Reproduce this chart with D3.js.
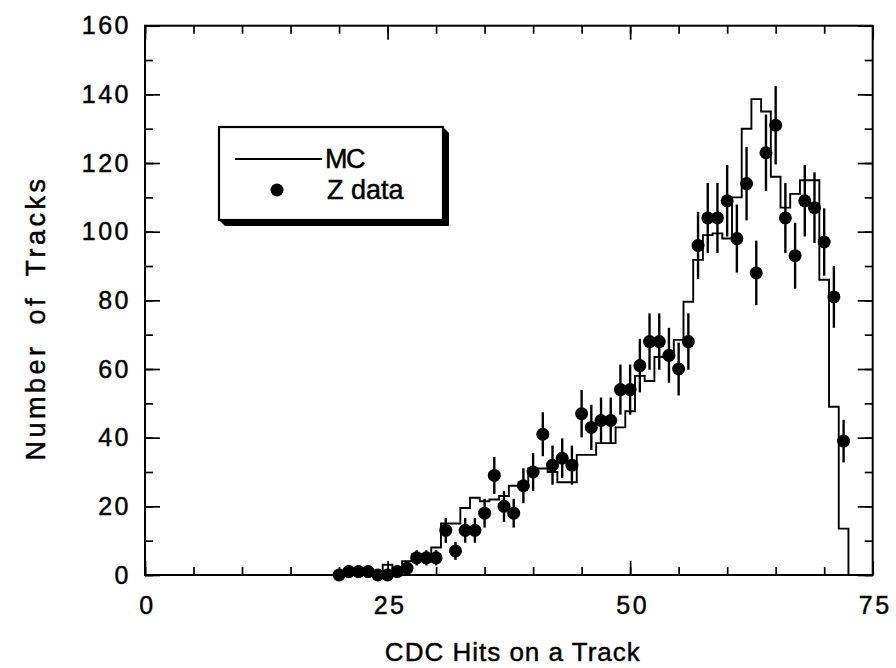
<!DOCTYPE html>
<html>
<head>
<meta charset="utf-8">
<script src="https://cdn.jsdelivr.net/npm/d3@7"></script>
<style>
  body { margin: 0; background: #fff; }
  svg { display: block; }
  text { font-family: "Liberation Sans", Arial, Helvetica, sans-serif; fill: #000; stroke: #000; stroke-width: 0.45px; }
</style>
</head>
<body>
<svg id="chart" width="896" height="668"></svg>
<script>
// Number of CDC hits per track (bin centres)
const hits = [20,21,22,23,24,25,26,27,28,29,30,31,32,33,34,35,36,37,38,39,40,
              41,42,43,44,45,46,47,48,49,50,51,52,53,54,55,56,57,58,59,60,
              61,62,63,64,65,66,67,68,69,70,71,72];

// Z data: tracks per bin and their uncertainties
const dataCounts = [0,1,1,1,0,0,1,2,5,5,5,13,7,13,13,18,29,20,18,26,30,
                    41,32,34,32,47,43,45,45,54,54,61,68,68,64,60,68,96,104,104,109,
                    98,114,88,123,131,104,93,109,107,97,81,39];
const dataErrors = [0,1,1,1,0,0,1,1.4,2.2,2.2,2.2,3.6,2.6,3.6,3.6,4.2,5.4,4.5,4.2,5.1,5.5,
                    6.4,5.7,5.8,5.7,6.9,6.6,6.7,6.7,7.3,7.3,7.8,8.2,8.2,8,7.7,8.2,9.8,10.2,10.2,10.4,
                    9.9,10.7,9.4,11.1,11.4,10.2,9.6,10.4,10.3,9.8,9,6.2];

// MC prediction per bin
const mcCounts = [0,0,0,0,0,3,2,4,6,6,8,15,15,19.5,22.5,21.5,22,23,26,27,31,
                  31,30,27,27,35,35,38.4,38.4,43,47.7,58,56.5,63.5,63.5,68.5,79.6,91.8,99,99.5,98,
                  110,130,138.6,135,116,107,111,115,115,86,49,13.5];

const xTickLabels = [0, 25, 50, 75];
const xMinorTicks = [0,5,10,15,20,25,30,35,40,45,50,55,60,65,70,75];
const yTickLabels = [0, 20, 40, 60, 80, 100, 120, 140, 160];
const yMinorTicks = [0,10,20,30,40,50,60,70,80,90,100,110,120,130,140,150,160];

const svg = d3.select("#chart");
const plotL = 145, plotR = 872.7, plotT = 25.7, plotB = 575;

const x = d3.scaleLinear().domain([0, 75]).range([plotL, plotR]);
const y = d3.scaleLinear().domain([0, 160]).range([plotB, plotT]);

// Axes with inward ticks on all four sides
function styleAxis(g) {
  g.select(".domain").remove();
  g.selectAll(".tick line").attr("stroke", "#000").attr("stroke-width", 1.7);
  g.selectAll(".tick text")
    .style("font-size", "25px")
    .style("letter-spacing", "2.5px");
}

svg.append("g").attr("transform", `translate(0,${plotB})`)
  .call(d3.axisBottom(x).tickValues(xMinorTicks).tickSize(-8).tickFormat(""))
  .call(styleAxis);
svg.append("g").attr("transform", `translate(0,${plotB})`)
  .call(d3.axisBottom(x).tickValues(xTickLabels).tickSize(-14).tickPadding(21).tickFormat(d3.format("d")))
  .call(styleAxis)
  .call(g => g.selectAll(".tick text").attr("dx", "2px"));
svg.append("g").attr("transform", `translate(0,${plotT})`)
  .call(d3.axisTop(x).tickValues(xMinorTicks).tickSize(-8).tickFormat(""))
  .call(styleAxis);
svg.append("g").attr("transform", `translate(0,${plotT})`)
  .call(d3.axisTop(x).tickValues(xTickLabels).tickSize(-14).tickFormat(""))
  .call(styleAxis);

svg.append("g").attr("transform", `translate(${plotL},0)`)
  .call(d3.axisLeft(y).tickValues(yMinorTicks).tickSize(-8).tickFormat(""))
  .call(styleAxis);
svg.append("g").attr("transform", `translate(${plotL},0)`)
  .call(d3.axisLeft(y).tickValues(yTickLabels).tickSize(-15).tickPadding(14).tickFormat(d3.format("d")))
  .call(styleAxis);
svg.append("g").attr("transform", `translate(${plotR},0)`)
  .call(d3.axisRight(y).tickValues(yMinorTicks).tickSize(-8).tickFormat(""))
  .call(styleAxis);
svg.append("g").attr("transform", `translate(${plotR},0)`)
  .call(d3.axisRight(y).tickValues(yTickLabels).tickSize(-15).tickFormat(""))
  .call(styleAxis);

// Frame
svg.append("rect")
  .attr("x", plotL).attr("y", plotT)
  .attr("width", plotR - plotL).attr("height", plotB - plotT)
  .attr("fill", "none").attr("stroke", "#000").attr("stroke-width", 2);

// MC histogram as a step outline
const stepPts = hits.map((h, i) => [h - 0.5, mcCounts[i]]);
stepPts.push([hits[hits.length - 1] + 0.5, 0]);
const stepLine = d3.line()
  .x(d => x(d[0]))
  .y(d => y(d[1]))
  .curve(d3.curveStepAfter);
svg.append("path")
  .attr("d", stepLine(stepPts))
  .attr("fill", "none")
  .attr("stroke", "#000")
  .attr("stroke-width", 1.9);

// Z data: error bars and points
const pts = hits.map((h, i) => ({ h, v: dataCounts[i], e: dataErrors[i] }));
svg.append("g").selectAll("line")
  .data(pts.filter(d => d.e > 0))
  .join("line")
  .attr("x1", d => x(d.h)).attr("x2", d => x(d.h))
  .attr("y1", d => y(Math.max(0, d.v - d.e)))
  .attr("y2", d => y(d.v + d.e))
  .attr("stroke", "#000")
  .attr("stroke-width", 2.4);
svg.append("g").selectAll("circle")
  .data(pts)
  .join("circle")
  .attr("cx", d => x(d.h))
  .attr("cy", d => y(d.v))
  .attr("r", 6.5)
  .attr("fill", "#000");

// Legend box with a drop shadow
const lg = { x0: 219, y0: 127, x1: 443, y1: 220, s: 6 };
svg.append("polygon")
  .attr("points", [
    [lg.x0, lg.y1], [lg.x0 + lg.s, lg.y1 + lg.s], [lg.x1 + lg.s, lg.y1 + lg.s],
    [lg.x1 + lg.s, lg.y0 + lg.s], [lg.x1, lg.y0]
  ].map(p => p.join(",")).join(" "))
  .attr("fill", "#000");
svg.append("rect")
  .attr("x", lg.x0).attr("y", lg.y0)
  .attr("width", lg.x1 - lg.x0).attr("height", lg.y1 - lg.y0)
  .attr("fill", "#fff").attr("stroke", "#000").attr("stroke-width", 2.2);
svg.append("line")
  .attr("x1", 235).attr("x2", 322).attr("y1", 159).attr("y2", 159)
  .attr("stroke", "#000").attr("stroke-width", 1.9);
svg.append("text").attr("x", 325).attr("y", 168)
  .style("font-size", "27px").style("letter-spacing", "-1.5px").text("MC");
svg.append("circle").attr("cx", 277).attr("cy", 190).attr("r", 6.5).attr("fill", "#000");
svg.append("text").attr("x", 327).attr("y", 199)
  .style("font-size", "27px").text("Z data");

// Axis titles
svg.append("text")
  .attr("x", (plotL + plotR) / 2 + 4).attr("y", 661)
  .attr("text-anchor", "middle")
  .style("font-size", "26px")
  .style("letter-spacing", "1px")
  .text("CDC Hits on a Track");
svg.append("text")
  .attr("transform", "translate(45,318) rotate(-90)")
  .attr("text-anchor", "middle")
  .style("font-size", "27px")
  .style("letter-spacing", "3.5px")
  .style("word-spacing", "8px")
  .text("Number of Tracks");
</script>
</body>
</html>
